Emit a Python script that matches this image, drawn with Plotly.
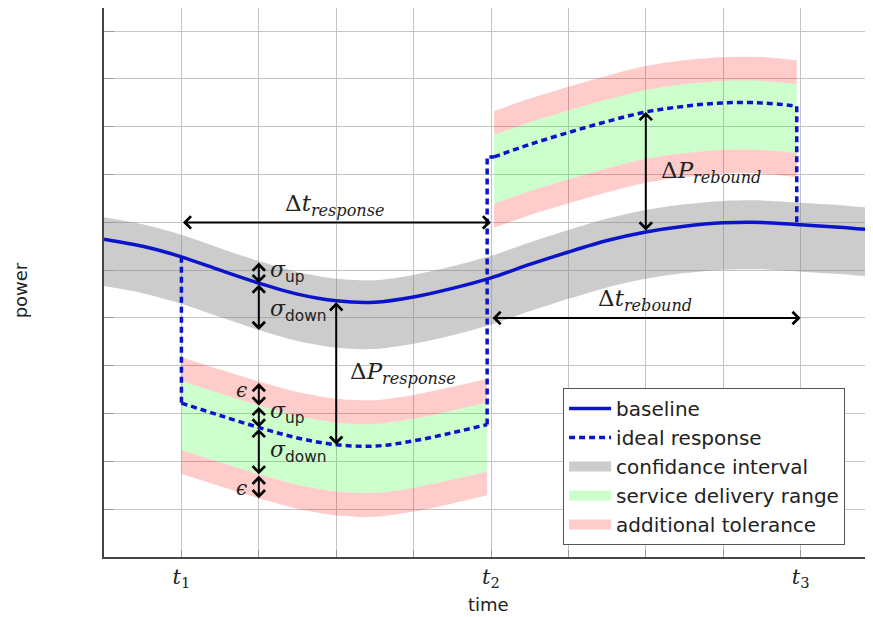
import numpy as np
import plotly.graph_objects as go

# ---------------- data ----------------
t_base = [0, 0.5, 1, 1.5, 2, 2.5, 3, 3.5, 4, 4.5, 5, 5.5, 6, 6.5, 7, 7.5, 8, 8.5, 9, 9.5, 9.93]
p_base = [6.65, 6.50, 6.28, 6.00, 5.73, 5.50, 5.36, 5.33, 5.44, 5.62, 5.84, 6.12, 6.38,
          6.62, 6.80, 6.92, 6.99, 7.00, 6.95, 6.90, 6.84]

t_resp = [1.0, 1.5, 2.0, 2.5, 3.0, 3.5, 4.0, 4.5, 4.95]
p_resp = [3.22, 2.96, 2.71, 2.49, 2.35, 2.32, 2.43, 2.60, 2.77]

t_reb = [5.04, 5.5, 6.0, 6.5, 7.0, 7.5, 8.0, 8.5, 8.95]
p_reb = [8.37, 8.63, 8.88, 9.11, 9.31, 9.43, 9.50, 9.50, 9.43]

sigma_up = 0.46
sigma_down = 0.98
epsilon = 0.5

t_events = [1, 5, 9]
t_event_labels = ["1", "2", "3"]
dt_response_level = 7.0
dt_rebound_level = 5.0

# ---------------- styling ----------------
BLUE = "rgb(10,20,200)"
GRAY = "rgba(128,128,128,0.4)"
GREEN = "rgba(0,255,0,0.2)"
PINK = "rgba(255,0,0,0.2)"
MATH = "DejaVu Serif"
SANS = "DejaVu Sans"

def shift(vals, d):
    return [v + d for v in vals]

fig = go.Figure()

def edge(x, y, fill=None, color=None):
    fig.add_trace(go.Scatter(x=x, y=y, mode="lines", line=dict(width=0, shape="spline", smoothing=0.8),
                             fill=fill if fill else "none", fillcolor=color, showlegend=False,
                             hoverinfo="skip"))

# confidence interval (grey)
edge(t_base, shift(p_base, -sigma_down))
edge(t_base, shift(p_base, sigma_up), "tonexty", GRAY)

# response & rebound bands
for tx, py in ((t_resp, p_resp), (t_reb, p_reb)):
    edge(tx, shift(py, -sigma_down - epsilon))
    edge(tx, shift(py, -sigma_down), "tonexty", PINK)
    edge(tx, shift(py, sigma_up), "tonexty", GREEN)
    edge(tx, shift(py, sigma_up + epsilon), "tonexty", PINK)

# baseline
fig.add_trace(go.Scatter(x=t_base, y=p_base, mode="lines", name="baseline",
                         line=dict(color=BLUE, width=3.5, shape="spline", smoothing=0.8),
                         legendgroup="g1", showlegend=True))

# ideal response (dashed)
b_t1 = float(np.interp(t_resp[0], t_base, p_base))
b_t3 = float(np.interp(t_reb[-1], t_base, p_base))
dash = "6px,4px"
segments = [
    ([t_resp[0], t_resp[0]], [b_t1, p_resp[0]], "linear"),
    (t_resp, p_resp, "spline"),
    ([t_resp[-1], t_resp[-1], t_reb[0]], [p_resp[-1], p_reb[0], p_reb[0]], "linear"),
    (t_reb, p_reb, "spline"),
    ([t_reb[-1], t_reb[-1]], [p_reb[-1], b_t3], "linear"),
]
for i, (sx, sy, shp) in enumerate(segments):
    fig.add_trace(go.Scatter(x=sx, y=sy, mode="lines", name="ideal response",
                             line=dict(color=BLUE, width=3.5, dash=dash, shape=shp),
                             legendgroup="g2", showlegend=(i == 0)))

# legend-only swatches for the bands
for nm, col, g in (("confidance interval", "rgb(204,204,204)", "g3"),
                   ("service delivery range", "rgb(204,255,204)", "g4"),
                   ("additional tolerance", "rgb(255,204,204)", "g5")):
    fig.add_trace(go.Scatter(x=[None], y=[None], mode="lines", name=nm,
                             line=dict(color=col, width=11), legendgroup=g, showlegend=True))

# ---------------- arrows ----------------
def arrow(x0, y0, x1, y1):
    return dict(x=x1, y=y1, ax=x0, ay=y0, xref="x", yref="y", axref="x", ayref="y",
                text="", showarrow=True, arrowhead=4, startarrowhead=4, arrowside="end+start",
                arrowsize=1.2, startarrowsize=1.2, arrowwidth=2, arrowcolor="black",
                standoff=0, startstandoff=0)

b2 = float(np.interp(2, t_base, p_base))
r2 = float(np.interp(2, t_resp, p_resp))
b3 = float(np.interp(3, t_base, p_base))
r3 = float(np.interp(3, t_resp, p_resp))
b7 = float(np.interp(7, t_base, p_base))
rb7 = float(np.interp(7, t_reb, p_reb))

anns = [
    arrow(2, b2 + sigma_up, 2, b2),
    arrow(2, b2, 2, b2 - sigma_down),
    arrow(2, r2 + sigma_up + epsilon, 2, r2 + sigma_up),
    arrow(2, r2 + sigma_up, 2, r2),
    arrow(2, r2, 2, r2 - sigma_down),
    arrow(2, r2 - sigma_down, 2, r2 - sigma_down - epsilon),
    arrow(3, b3, 3, r3),
    arrow(7, b7, 7, rb7),
    arrow(t_events[0], dt_response_level, t_events[1], dt_response_level),
    arrow(t_events[1], dt_rebound_level, t_events[2], dt_rebound_level),
]

def label(x, y, txt, size=23, xanchor="center"):
    return dict(x=x, y=y, xref="x", yref="y", text=txt, showarrow=False, xanchor=xanchor,
                yanchor="middle", font=dict(family=MATH, size=size, color="#222"))

def sig(kind):
    return ("<i>σ</i><sub><span style=\"font-family:DejaVu Sans\">" + kind + "</span></sub>")

anns += [
    label(2.98, 7.36, "Δ<i>t</i><sub><i>response</i></sub>", 23),
    label(6.99, 5.38, "Δ<i>t</i><sub><i>rebound</i></sub>", 23),
    label(3.86, 3.85, "Δ<i>P</i><sub><i>response</i></sub>", 23),
    label(7.84, 8.05, "Δ<i>P</i><sub><i>rebound</i></sub>", 23),
    label(2.12, 5.98, sig("up"), 22, "left"),
    label(2.12, 5.15, sig("down"), 22, "left"),
    label(2.12, 3.03, sig("up"), 22, "left"),
    label(2.12, 2.20, sig("down"), 22, "left"),
    label(1.87, 3.50, "<i>ϵ</i>", 20, "right"),
    label(1.87, 1.45, "<i>ϵ</i>", 20, "right"),
]

# axis titles
anns += [
    dict(x=0.5006, y=-0.087, xref="paper", yref="paper", text="time", showarrow=False,
         xanchor="center", yanchor="middle", font=dict(family=SANS, size=18, color="#222")),
    dict(x=-0.109, y=0.486, xref="paper", yref="paper", text="power", showarrow=False,
         textangle=-90, xanchor="center", yanchor="middle",
         font=dict(family=SANS, size=18, color="#222")),
]

xtext = ["<i>t</i><sub>" + s + "</sub>" for s in t_event_labels]

# the page body has an 8px default margin, so the figure is 8px smaller than the window
fig.update_layout(
    width=865, height=609,
    margin=dict(l=96, r=0, t=0, b=60),
    plot_bgcolor="white", paper_bgcolor="white",
    annotations=anns,
    showlegend=True,
    legend=dict(x=0.597, y=0.308, xanchor="left", yanchor="top", bgcolor="white",
                bordercolor="#555", borderwidth=1, itemwidth=42,
                font=dict(family=SANS, size=20, color="#222"),
                traceorder="grouped", tracegroupgap=0),
    xaxis=dict(range=[0, 9.935], tickmode="array", tickvals=t_events, ticktext=xtext,
               ticks="inside", ticklen=7, tickcolor="#999", showgrid=True, gridcolor="#c4c4c4",
               gridwidth=1, zeroline=False, showline=True, linecolor="#444", linewidth=1.5,
               tickfont=dict(family=MATH, size=21, color="#222"), fixedrange=True,
               minor=dict(tickmode="linear", tick0=0, dtick=1, ticks="inside", ticklen=7,
                          tickcolor="#999", showgrid=True, gridcolor="#c4c4c4", gridwidth=1)),
    yaxis=dict(range=[0, 11.485], tickmode="linear", tick0=0, dtick=1,
               showticklabels=False, ticks="inside", ticklen=10, tickcolor="#999",
               showgrid=True, gridcolor="#c4c4c4", gridwidth=1, zeroline=False,
               showline=True, linecolor="#444", linewidth=1.5, fixedrange=True),
)

fig.write_html("out.html")
